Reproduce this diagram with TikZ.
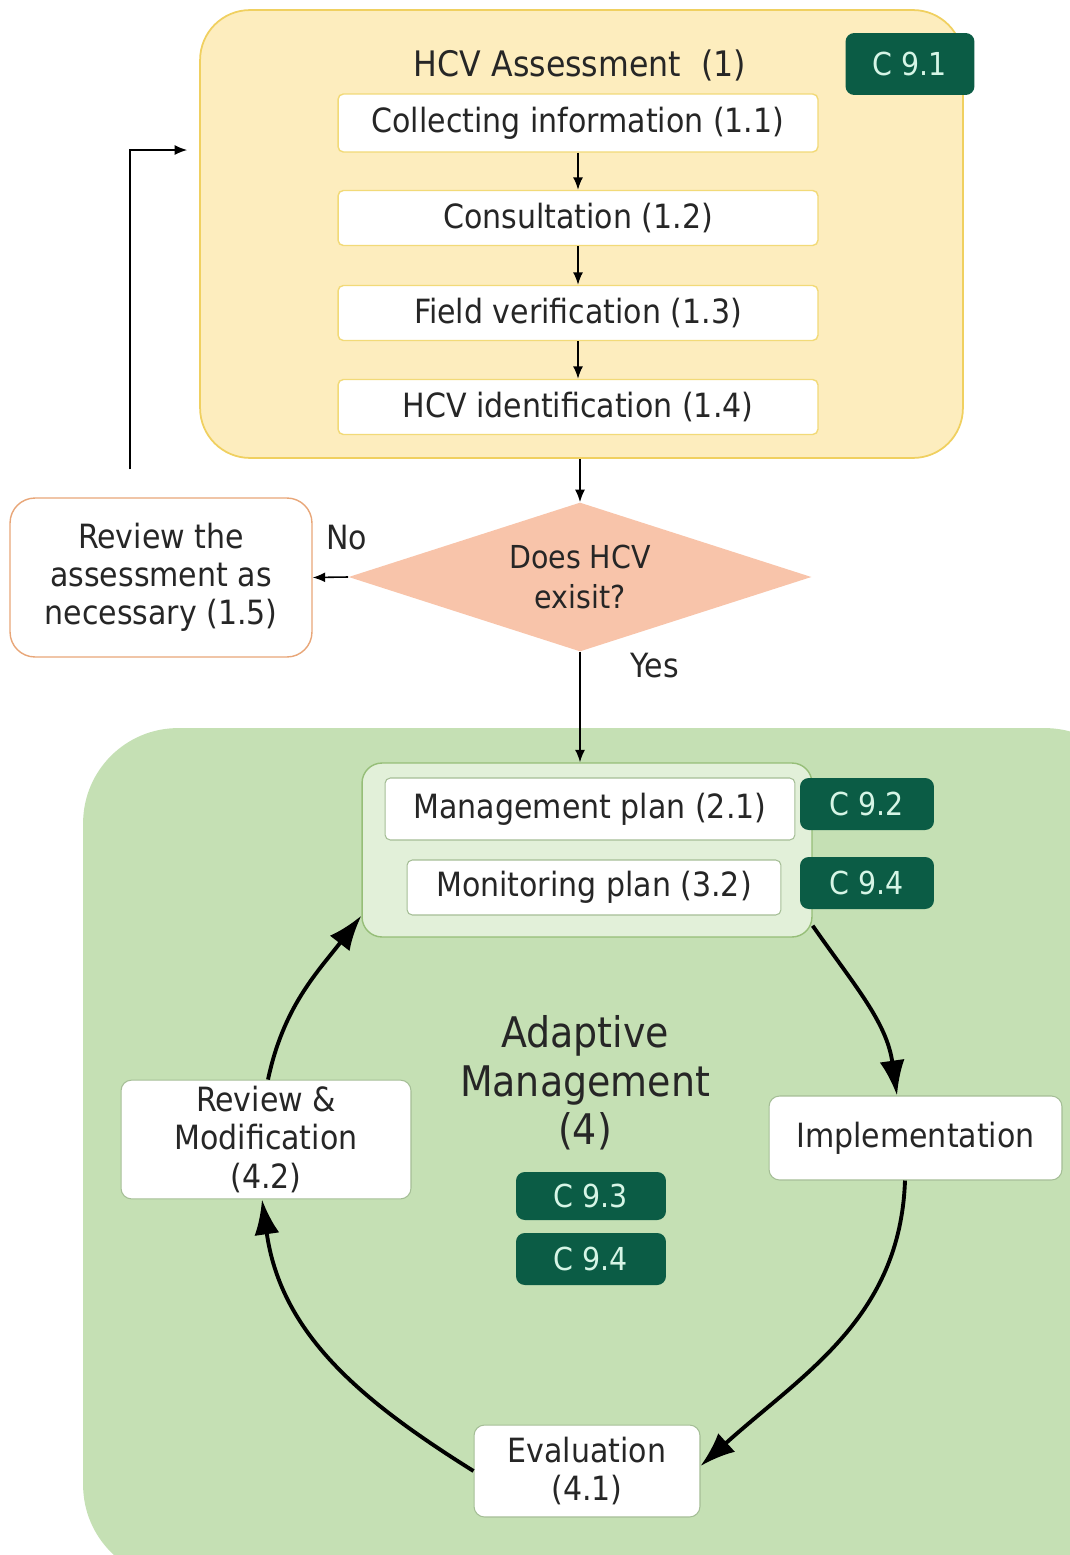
\documentclass[tikz,border=0pt]{standalone}
\usepackage{fontspec}
\setmainfont{DejaVu Sans Condensed}
\usepackage{tikz}
\usetikzlibrary{positioning, arrows.meta, shapes.geometric, calc}
\definecolor{hcvfill}{RGB}{253,237,190}
\definecolor{hcvline}{RGB}{240,208,96}
\definecolor{stepline}{RGB}{242,218,120}
\definecolor{diafill}{RGB}{248,196,170}
\definecolor{revline}{RGB}{232,166,120}
\definecolor{amfill}{RGB}{197,224,180}
\definecolor{planfill}{RGB}{226,240,217}
\definecolor{planline}{RGB}{150,190,120}
\definecolor{cycline}{RGB}{165,190,150}
\definecolor{badgefill}{RGB}{11,92,69}
\definecolor{badgetext}{RGB}{214,245,230}
\tikzset{
    hcvframe/.style={draw=hcvline, line width=1pt, fill=hcvfill, rounded corners=1cm, minimum width=15.26cm, minimum height=8.96cm},
    amframe/.style={draw=none, fill=amfill, rounded corners=1.9cm, minimum width=21.14cm, minimum height=17.04cm},
    planframe/.style={draw=planline, line width=0.8pt, fill=planfill, rounded corners=0.4cm, minimum width=9cm, minimum height=3.48cm},
    stepbox/.style={draw=stepline, line width=0.8pt, fill=white, rounded corners=3pt, minimum width=9.6cm, minimum height=1.1cm, font=\fontsize{19}{22}\selectfont, text=black!85},
    planbox/.style={draw=cycline, line width=0.6pt, fill=white, rounded corners=3pt, font=\fontsize{19}{22}\selectfont, text=black!85},
    cyclebox/.style={draw=cycline, line width=0.6pt, fill=white, rounded corners=6pt, align=center, font=\fontsize{19}{22}\selectfont, text=black!85},
    reviewbox/.style={draw=revline, line width=0.8pt, fill=white, rounded corners=0.5cm, minimum width=6.04cm, minimum height=3.18cm, align=center, font=\fontsize{19}{21.5}\selectfont, text=black!85},
    decision/.style={diamond, aspect=3.1, fill=diafill, minimum width=9.26cm, minimum height=2.98cm, inner sep=0pt, align=center, font=\fontsize{18}{22.5}\selectfont, text=black!85},
    badge/.style={fill=badgefill, rounded corners=5pt, text=badgetext, font=\fontsize{18}{22}\selectfont},
    thinarrow/.style={-{Latex[length=2.5mm, width=2mm]}, line width=0.9pt},
    cyclearrow/.style={-{Latex[length=0.7cm, width=0.5cm]}, line width=2.2pt},
    lbl/.style={font=\fontsize{19}{22}\selectfont, text=black!85},
}

\begin{document}
\begin{tikzpicture}[x=0.02cm, y=0.02cm]
    \useasboundingbox (0,0) rectangle (1069,-1555);
    \node[amframe] (am) at (611.5,-1154) {};
    \node[hcvframe] (hcv) at (581.5,-234) {};
    \node[font=\fontsize{20}{24}\selectfont, text=black!85] (hcvtitle) at (580,-65) {HCV Assessment\ \ (1)};
    \node[badge, minimum width=2.58cm, minimum height=1.24cm] (c91) at (910,-64) {C 9.1};
    \node[stepbox, minimum height=1.16cm] (c11) at (578,-123) {Collecting information (1.1)};
    \node[stepbox] (c12) at (578,-218) {Consultation (1.2)};
    \node[stepbox] (c13) at (578,-313) {Field verification (1.3)};
    \node[stepbox] (c14) at (578,-407) {HCV identification (1.4)};
    \draw[thinarrow] (c11) -- (c12);
    \draw[thinarrow] (c12) -- (c13);
    \draw[thinarrow] (c13) -- (c14);
    \node[decision] (exist) at (580,-577) {Does HCV\\exisit?};
    \node[reviewbox] (rev) at (161,-577.5) {Review the\\assessment as\\necessary (1.5)};
    \draw[thinarrow] (exist.north |- hcv.south) -- (exist.north);
    \draw[thinarrow] (exist.west) -- node[lbl, pos=0.05, yshift=0.78cm] {No} (rev.east);
    \draw[thinarrow] ([xshift=-0.62cm, yshift=0.56cm]rev.north) |- ([xshift=-0.24cm, yshift=1.68cm]hcv.west);
    \node[planframe] (plans) at (587,-850) {};
    \node[planbox, minimum width=8.2cm, minimum height=1.24cm] (mplan) at (590,-809) {Management plan (2.1)};
    \node[planbox, minimum width=7.48cm, minimum height=1.1cm] (mon) at (594,-887.5) {Monitoring plan (3.2)};
    \node[badge, minimum width=2.68cm, minimum height=1.04cm] (c92) at (867,-804) {C 9.2};
    \node[badge, minimum width=2.68cm, minimum height=1.04cm] (c94a) at (867,-883) {C 9.4};
    \draw[thinarrow] (exist.south) -- node[lbl, pos=0.12, xshift=1.5cm] {Yes} (exist.south |- plans.north);
    \node[align=center, font=\fontsize{24}{27.5}\selectfont, text=black!85] (amtitle) at (585,-1083) {Adaptive\\Management\\(4)};
    \node[badge, minimum width=3cm, minimum height=0.96cm] (c93) at (591,-1196) {C 9.3};
    \node[badge, minimum width=3cm, minimum height=1.04cm] (c94b) at (591,-1259) {C 9.4};
    \node[cyclebox, minimum width=5.8cm, minimum height=2.3cm] (rev42) at (266,-1139.5) {Review \&\\Modification\\(4.2)};
    \node[cyclebox, minimum width=5.86cm, minimum height=1.68cm] (impl) at (915.5,-1138) {Implementation};
    \node[cyclebox, minimum width=4.52cm, minimum height=1.84cm] (eval) at (587,-1471) {Evaluation\\(4.1)};
    \draw[cyclearrow] ([yshift=0.24cm]plans.south east) to[out=-55, in=98] ([xshift=-0.37cm]impl.north);
    \draw[cyclearrow] ([xshift=-0.21cm]impl.south) to[out=-92, in=42] ([yshift=0.1cm]eval.east);
    \draw[cyclearrow] (eval.west) to[out=148, in=-82] ([xshift=-0.08cm]rev42.south);
    \draw[cyclearrow] ([xshift=0.04cm]rev42.north) to[out=78, in=-128] ([yshift=0.44cm]plans.south west);
\end{tikzpicture}
\end{document}
